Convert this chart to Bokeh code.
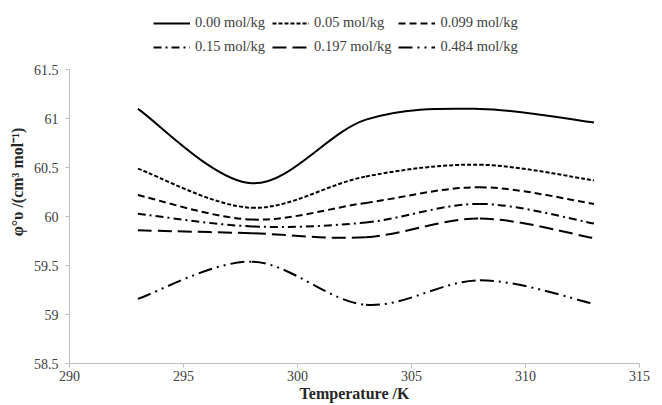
from bokeh.plotting import figure
from bokeh.models import Range1d, FixedTicker, Legend, LegendItem
from bokeh.embed import file_html
from bokeh.resources import INLINE

temperature = [293, 298, 303, 308, 313]
labels = ["0.00 mol/kg", "0.05 mol/kg", "0.099 mol/kg",
          "0.15 mol/kg", "0.197 mol/kg", "0.484 mol/kg"]
phi_000 = [61.10, 60.34, 60.99, 61.10, 60.96]
phi_005 = [60.49, 60.09, 60.41, 60.53, 60.37]
phi_0099 = [60.22, 59.97, 60.14, 60.30, 60.13]
phi_015 = [60.03, 59.90, 59.94, 60.13, 59.93]
phi_0197 = [59.86, 59.83, 59.79, 59.98, 59.78]
phi_0484 = [59.16, 59.54, 59.10, 59.35, 59.11]
x_ticks = [290, 295, 300, 305, 310, 315]
y_ticks = [58.5, 59, 59.5, 60, 60.5, 61, 61.5]

series = [phi_000, phi_005, phi_0099, phi_015, phi_0197, phi_0484]
dashes = ["solid", "4 2", "7 4", "8 4 2 4", "14 6", "14 5 2 5 2 5"]

FONT = "Liberation Serif"
GRAY = "#404040"

# frame reaches the top of the page so the legend (drawn in the frame) sits
# above the 61.5 tick, as in the reference; the y axis itself stops at 61.5
p = figure(frame_width=570, frame_height=363, output_backend="svg",
           toolbar_location=None,
           x_range=Range1d(290, 315), y_range=Range1d(58.5, 62.207),
           min_border_left=69, min_border_right=23, min_border_top=0,
           min_border_bottom=0)
p.outline_line_color = None
p.grid.grid_line_color = None


def smooth_segments(xs, ys):
    # Bezier control points for a smoothed line through the data points
    n = len(xs)
    out = dict(x0=[], y0=[], x1=[], y1=[], cx0=[], cy0=[], cx1=[], cy1=[])
    for i in range(n - 1):
        ip = max(i - 1, 0)
        inn = min(i + 2, n - 1)
        out["x0"].append(xs[i]); out["y0"].append(ys[i])
        out["x1"].append(xs[i + 1]); out["y1"].append(ys[i + 1])
        out["cx0"].append(xs[i] + (xs[i + 1] - xs[ip]) / 6.0)
        out["cy0"].append(ys[i] + (ys[i + 1] - ys[ip]) / 6.0)
        out["cx1"].append(xs[i + 1] - (xs[inn] - xs[i]) / 6.0)
        out["cy1"].append(ys[i + 1] - (ys[inn] - ys[i]) / 6.0)
    return out


items = []
for ys, lab, dash in zip(series, labels, dashes):
    seg = smooth_segments(temperature, ys)
    r = p.bezier(line_color="black", line_width=2, line_dash=dash, source=seg,
                 x0="x0", y0="y0", x1="x1", y1="y1",
                 cx0="cx0", cy0="cy0", cx1="cx1", cy1="cy1")
    items.append(LegendItem(label=lab, renderers=[r]))

legend = Legend(items=items, ncols=3, orientation="horizontal", location=(84, 308),
                label_text_font=FONT, label_text_font_size="14.5px",
                label_text_color=GRAY, glyph_width=37, glyph_height=14,
                label_height=14, label_standoff=5, spacing=7, padding=0,
                margin=0, border_line_color=None, background_fill_alpha=0)
p.add_layout(legend, "center")

for ax in (p.xaxis, p.yaxis):
    ax.axis_line_color = "#bfbfbf"
    ax.major_tick_line_color = "#bfbfbf"
    ax.minor_tick_line_color = None
    ax.major_tick_in = 0
    ax.major_tick_out = 4
    ax.major_label_text_font = FONT
    ax.major_label_text_font_size = "14px"
    ax.major_label_text_color = GRAY
    ax.axis_label_text_font = FONT
    ax.axis_label_text_font_style = "bold"
    ax.axis_label_text_color = "#262626"

p.xaxis.axis_label_text_font_size = "16px"
p.yaxis.axis_label_text_font_size = "16px"
p.xaxis.ticker = FixedTicker(ticks=x_ticks)
p.yaxis.ticker = FixedTicker(ticks=y_ticks)
p.yaxis.bounds = (58.5, 61.5)
p.yaxis.major_label_overrides = {t: f"{t:g}" for t in y_ticks}
p.xaxis.axis_label = "Temperature /K"
p.yaxis.axis_label = "φ°υ /(cm³ mol⁻¹)"
p.xaxis.major_label_standoff = 3
p.xaxis.axis_label_standoff = 1
p.yaxis.major_label_standoff = 7
p.yaxis.axis_label_standoff = 5

open("out.html", "w").write(file_html(p, INLINE))
